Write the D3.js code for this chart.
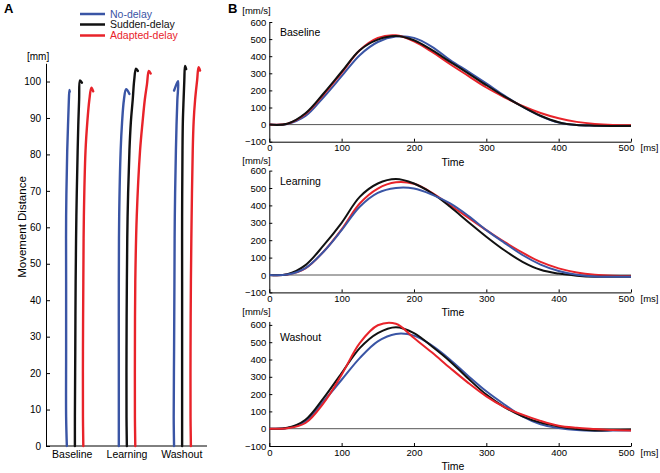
<!DOCTYPE html>
<html><head><meta charset="utf-8">
<script src="https://cdn.jsdelivr.net/npm/d3@7"></script>
<style>
body{margin:0;background:#fff;}
svg text{font-family:"Liberation Sans",Arial,sans-serif;}
</style></head>
<body><svg id="c" width="660" height="473"></svg>
<script>
// ---------- DATA ----------
const conditions = ["Baseline","Learning","Washout"];
const seriesNames = ["No-delay","Sudden-delay","Adapted-delay"];
const seriesColors = ["#3a55a5","#111111","#e8232a"];

// Panel A: trajectories (movement distance mm vs lateral position mm)
const trajDist = {
  Baseline: [
    [0,8,26,45,63,81,89,95,97.7,97.2],
    [0,8,26,45,63,81,89,95,100.3,99.7],
    [0,8,26,45,63,81,89,95,98.3,97.3]],
  Learning: [
    [0,8,26,45,63,81,89,95,97.9,96.6],
    [0,8,26,45,63,81,89,95,100.3,103.5,102.9],
    [0,8,26,45,63,81,89,95,99.3,102.9,102.2]],
  Washout: [
    [0,8,26,45,63,81,89,95,100.1,97.5],
    [0,8,26,45,63,81,89,95,100.3,104.3,103.4],
    [0,8,26,45,63,81,89,95,100.3,103.9,103.0]]
};
const trajLateral = {
  Baseline: [
    [5.7,5.5,5.5,5.5,5.5,5.8,6.05,6.25,6.4,6.5],
    [7.9,7.9,8.0,8.1,8.3,8.65,8.85,9.05,9.3,9.8],
    [10.2,10.1,10.1,10.2,10.35,10.8,11.3,11.85,12.4,12.9]],
  Learning: [
    [19.9,19.9,19.9,19.9,20.0,20.4,20.8,21.3,21.9,22.8],
    [22.1,22.0,22.0,22.1,22.3,22.8,23.2,23.7,24.1,24.6,25.1],
    [24.4,24.3,24.3,24.4,24.8,25.7,26.4,27.0,27.6,28.1,28.6]],
  Washout: [
    [35.0,34.9,35.0,35.1,35.2,35.5,35.7,35.9,36.1,35.0],
    [37.2,37.2,37.2,37.2,37.2,37.3,37.4,37.6,37.8,38.0,38.3],
    [39.6,39.5,39.5,39.6,39.8,40.1,40.35,40.75,41.3,41.7,42.1]]
};
const distTicks = [0,10,20,30,40,50,60,70,80,90,100];

// Panel B: velocity profiles (mm/s) vs time (ms)
const time = [0,25,50,75,100,125,150,175,200,225,250,275,300,325,350,375,400,425,450,475,500];
const velocity = {
  Baseline: [
    [0,4,50,160,283,406,483,515,507,455,377,310,241,170,105,50,12,-3,-6,-8,-8],
    [0,5,66,182,309,435,497,518,493,435,367,300,231,165,105,52,14,-3,-6,-8,-8],
    [0,5,62,175,303,435,507,522,487,425,353,285,217,160,109,68,37,16,4,-2,-4]],
  Learning: [
    [0,3,40,134,258,392,472,500,497,462,411,340,258,185,115,60,23,2,-8,-10,-10],
    [0,4,57,170,300,449,526,552,526,470,392,305,220,142,76,30,8,-4,-10,-10,-10],
    [0,3,38,134,262,411,497,533,524,472,401,330,258,190,128,75,38,15,2,-4,-6]],
  Washout: [
    [0,4,42,158,283,408,505,548,538,480,399,305,216,140,71,25,4,-8,-12,-11,-10],
    [0,5,52,177,322,466,553,587,553,475,389,290,197,125,71,35,13,-2,-10,-8,-6],
    [0,3,33,148,312,495,598,607,524,440,351,265,187,125,81,45,17,5,-2,-8,-10]]
};
const velTicks = [-100,0,100,200,300,400,500,600];
const timeTicks = [0,100,200,300,400,500];
const velMax = {Baseline:600, Learning:600, Washout:620};

// ---------- DRAW ----------
const svg = d3.select("#c");
const font = "Liberation Sans, Arial, sans-serif";

// Panel labels
svg.append("text").attr("x",4).attr("y",13).attr("font-size",13).attr("font-weight","bold").text("A");
svg.append("text").attr("x",228).attr("y",13).attr("font-size",13).attr("font-weight","bold").text("B");

// Legend
const legY = [14,24.5,35.5];
seriesNames.forEach((n,i)=>{
  svg.append("line").attr("x1",80).attr("x2",105).attr("y1",legY[i]).attr("y2",legY[i])
    .attr("stroke",seriesColors[i]).attr("stroke-width",2.5);
  svg.append("text").attr("x",110).attr("y",legY[i]+3.8).attr("font-size",10.5)
    .attr("fill",i===1?"#111":seriesColors[i]).text(n);
});

// Panel A
const ax = d3.scaleLinear().domain([0,44]).range([46,207]);
const ay = d3.scaleLinear().domain([0,105]).range([446,63.3]);
const catScale = d3.scalePoint().domain(conditions).range([46,207]).padding(0.47);

const gA = svg.append("g");
gA.append("g").attr("transform","translate(46,0)")
  .call(d3.axisLeft(ay).tickValues(distTicks).tickSizeInner(-4).tickSizeOuter(0).tickPadding(5))
  .call(g=>{g.selectAll("text").attr("font-size",10).attr("font-family",font);});
gA.append("g").attr("transform","translate(0,446)")
  .call(d3.axisBottom(catScale).tickSize(0).tickPadding(5))
  .call(g=>{g.select(".domain").attr("d","M46,0H207"); g.selectAll("text").attr("font-size",10.5).attr("font-family",font);});
gA.append("text").attr("x",27).attr("y",60).attr("font-size",10).text("[mm]");
gA.append("text").attr("transform","translate(25.5,227) rotate(-90)").attr("text-anchor","middle")
  .attr("font-size",11.5).text("Movement Distance");

const trajLine = d3.line().x(d=>ax(d[0])).y(d=>ay(d[1])).curve(d3.curveCatmullRom.alpha(0.5));
conditions.forEach(c=>{
  [0,1,2].forEach(i=>{
    const pts = trajLateral[c][i].map((l,k)=>[l,trajDist[c][i][k]]);
    gA.append("path").attr("d",trajLine(pts)).attr("fill","none")
      .attr("stroke",seriesColors[i]).attr("stroke-width",2.4).attr("stroke-linecap","round");
  });
});

// Panel B
const bx = d3.scaleLinear().domain([0,500]).range([269.3,631]);
const subLayout = {
  Baseline: {bottom:141.7, zero:124.6, title:36, unit:13.5, timeLab:165.5},
  Learning: {bottom:292.4, zero:275, title:184.5, unit:163.5, timeLab:315.5},
  Washout: {bottom:446, zero:428.7, title:340.7, unit:314.5, timeLab:469.5}
};
const drawOrder = {Baseline:[0,2,1], Learning:[2,1,0], Washout:[0,1,2]};
conditions.forEach(c=>{
  const L = subLayout[c];
  const pxPer = (L.bottom - L.zero)/100;
  const top = L.bottom - pxPer*(velMax[c]+100);
  const by = d3.scaleLinear().domain([-100,velMax[c]]).range([L.bottom, top]);
  const g = svg.append("g");
  g.append("g").attr("transform","translate(269.3,0)")
    .call(d3.axisLeft(by).tickValues(velTicks).tickFormat(d=>d<0?"\u2212"+(-d):d).tickSizeInner(-3).tickSizeOuter(0).tickPadding(3))
    .call(gg=>gg.selectAll("text").attr("font-size",9.5).attr("font-family",font));
  g.append("g").attr("transform",`translate(0,${L.bottom})`)
    .call(d3.axisBottom(bx).tickValues(timeTicks).tickSizeInner(-3).tickSizeOuter(0).tickPadding(3))
    .call(gg=>{gg.selectAll("text").attr("font-size",9.5).attr("font-family",font);
      gg.selectAll(".tick text").filter(d=>d===500).attr("dx",-5);});
  g.append("text").attr("x",640.5).attr("y",L.bottom+9.5).attr("font-size",9.5).text("[ms]");
  g.append("text").attr("x",453).attr("y",L.timeLab).attr("text-anchor","middle").attr("font-size",10.5).text("Time");
  g.append("text").attr("x",256.5).attr("y",L.unit).attr("text-anchor","middle").attr("font-size",9.5).text("[mm/s]");
  g.append("text").attr("x",280).attr("y",L.title).attr("font-size",10.5).text(c);
  // zero line
  g.append("line").attr("x1",bx(0)).attr("x2",bx(500)).attr("y1",by(0)).attr("y2",by(0))
    .attr("stroke","#555").attr("stroke-width",1);
  const line = d3.line().x((d,k)=>bx(time[k])).y(d=>by(d)).curve(d3.curveCatmullRom.alpha(0.5));
  drawOrder[c].forEach(i=>{
    g.append("path").attr("d",line(velocity[c][i])).attr("fill","none")
      .attr("stroke",seriesColors[i]).attr("stroke-width",2);
  });
});
</script></body></html>
